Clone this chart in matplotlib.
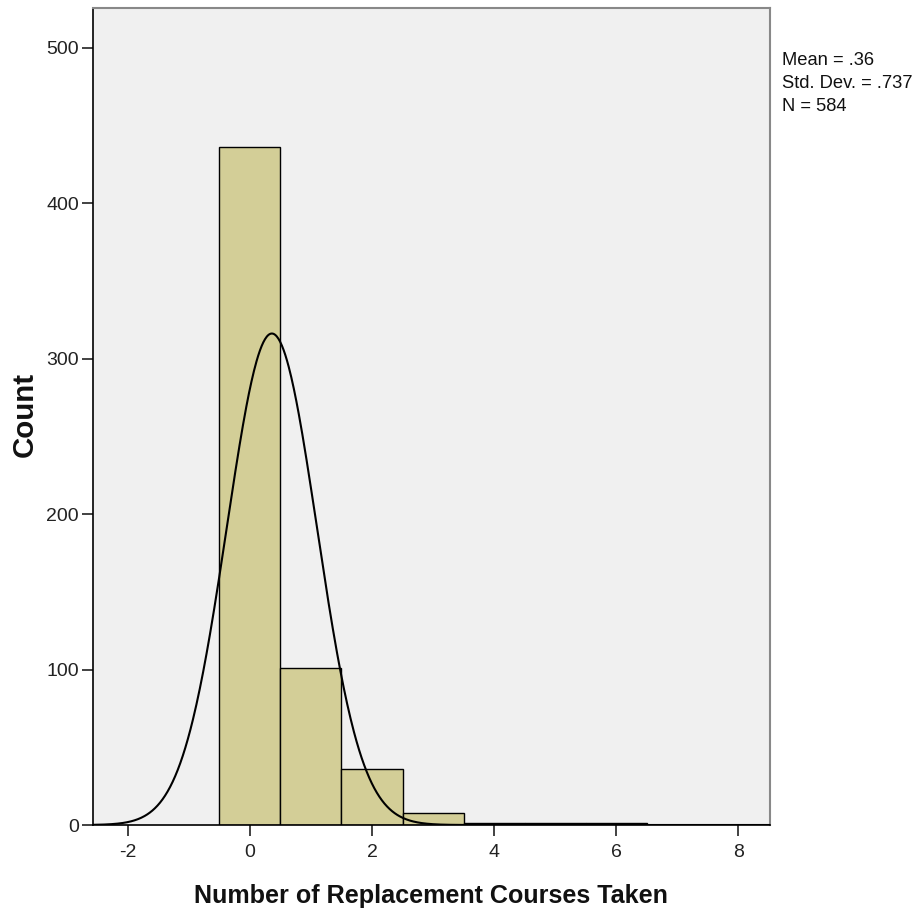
import numpy as np
import matplotlib
matplotlib.use("Agg")
import matplotlib.pyplot as plt
from matplotlib import font_manager

# Data
bin_centers = [0, 1, 2, 3, 4, 5, 6]
counts = [436, 101, 36, 8, 1, 1, 1]
mean_val = 0.36
std_val = 0.737
n_val = 584
xticks = [-2, 0, 2, 4, 6, 8]
yticks = [0, 100, 200, 300, 400, 500]
stats_lines = ["Mean = .36", "Std. Dev. = .737", "N = 584"]

names = {f.name for f in font_manager.fontManager.ttflist}
narrow = "Liberation Sans Narrow" if "Liberation Sans Narrow" in names else "Liberation Sans"
regular = "Liberation Sans" if "Liberation Sans" in names else "DejaVu Sans"

W, H = 914, 917
fig = plt.figure(figsize=(W/100, H/100), dpi=100)
ax = fig.add_axes([93/W, (H-825)/H, 677/W, 817/H])
ax.set_facecolor("#f0f0f0")

ax.bar(bin_centers, counts, width=1.0, color="#d3ce97", edgecolor="black", linewidth=1.0, zorder=2)

xlim = (-2.57, 8.52)
xs = np.linspace(xlim[0], xlim[1], 800)
ys = n_val * 1.0 / (std_val * np.sqrt(2*np.pi)) * np.exp(-0.5*((xs-mean_val)/std_val)**2)
ax.plot(xs, ys, color="black", linewidth=1.5, zorder=3)

ax.set_xlim(*xlim)
ax.set_ylim(0, 525.5)
ax.set_xticks(xticks)
ax.set_yticks(yticks)
ax.set_xticklabels([str(t) for t in xticks])
ax.set_yticklabels([str(t) for t in yticks])
for lab in ax.get_xticklabels() + ax.get_yticklabels():
    lab.set_fontfamily(narrow)
    lab.set_fontsize(14)
    lab.set_color("#222222")
ax.tick_params(axis="x", length=8, width=1.3, color="#333333", pad=6)
ax.tick_params(axis="y", length=8, width=1.3, color="#333333", pad=2)

for s in ["top", "right"]:
    ax.spines[s].set_color("#888888")
    ax.spines[s].set_linewidth(1.5)
for s in ["left", "bottom"]:
    ax.spines[s].set_color("black")
    ax.spines[s].set_linewidth(1.2)

renderer = fig.canvas.get_renderer()

def fit(t, target_w, horizontal=True):
    bb = t.get_window_extent(renderer)
    cur = bb.width if horizontal else bb.height
    t.set_fontsize(t.get_fontsize() * target_w / cur)

# x label
xl = fig.text(431/W, 1-903/H, "Number of Replacement Courses Taken", family=narrow,
              fontweight="bold", fontsize=16, ha="center", va="baseline", color="#111111")
fit(xl, 473)
# y label
yl = fig.text(33/W, 1-414.5/H, "Count", family=regular, fontweight="bold", fontsize=16,
              rotation=90, ha="center", va="baseline", rotation_mode="anchor", color="#111111")
fit(yl, 85, horizontal=False)

# stats text
st = fig.text(782/W, 1-52/H, "\n".join(stats_lines), family=narrow, fontsize=13,
              va="top", ha="left", linespacing=1.45, color="#111111")
fit(st, 130)

fig.savefig("out.png", dpi=100)
